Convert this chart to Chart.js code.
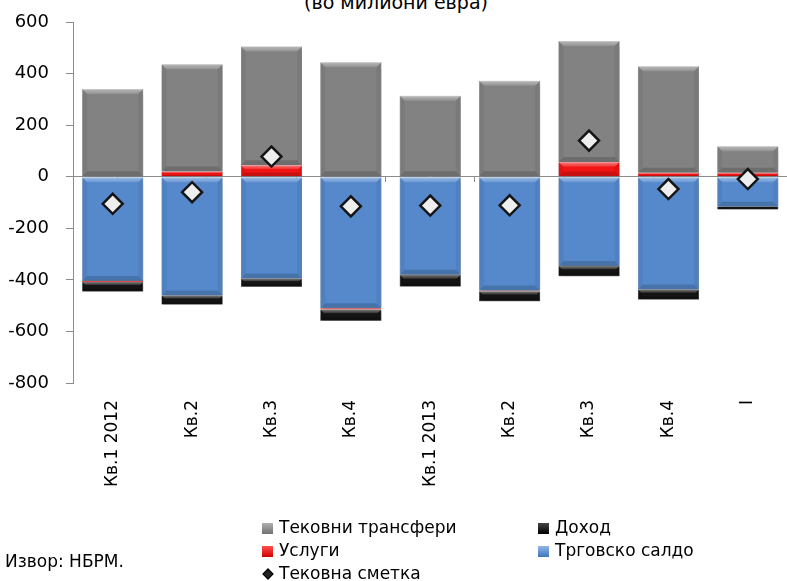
<!DOCTYPE html>
<html>
<head>
<meta charset="utf-8">
<script src="https://cdn.jsdelivr.net/npm/chart.js@4.4.0/dist/chart.umd.min.js"></script>
<style>
    html, body { margin: 0; padding: 0; background: #fff; overflow: hidden; }
    body { width: 787px; height: 581px; position: relative; font-family: "DejaVu Sans", sans-serif; color: #000; }
    #wrap { position: absolute; left: 0; top: 0; width: 800px; height: 581px; }
    .title { position: absolute; left: 0; width: 792px; top: -7px; text-align: center; font-size: 19px; line-height: 1; }
    .legend { position: absolute; font-size: 17px; line-height: 23px; white-space: nowrap; }
    .legend div { position: relative; padding-left: 18px; }
    .sw { position: absolute; left: 1px; top: 7px; width: 11px; height: 11px; }
    .dia { position: absolute; left: 3px; top: 8px; width: 6px; height: 6px; background: #222; transform: rotate(45deg); border: 1px solid #000; }
    .source { position: absolute; left: 5px; top: 550px; font-size: 17px; line-height: 23px; }
</style>
</head>
<body>
<div class="title">(во милиони евра)</div>
<div id="wrap"><canvas id="bopChart"></canvas></div>

<div class="legend" style="left:261px; top:516px;">
    <div><span class="sw" style="background:linear-gradient(#b0b0b0,#707070);"></span>Тековни трансфери</div>
    <div><span class="sw" style="background:linear-gradient(#ff5050,#d00000);"></span>Услуги</div>
    <div><span class="dia"></span>Тековна сметка</div>
</div>
<div class="legend" style="left:537px; top:516px;">
    <div><span class="sw" style="background:linear-gradient(#444,#000);"></span>Доход</div>
    <div><span class="sw" style="background:linear-gradient(#8fb6e8,#3f74bd);"></span>Трговско салдо</div>
</div>
<div class="source">Извор: НБРМ.</div>

<script>
// quarters on the x axis
var labels = ["Кв.1 2012", "Кв.2", "Кв.3", "Кв.4", "Кв.1 2013", "Кв.2", "Кв.3", "Кв.4", "I"];

// components of the current account, millions of euros
var trade     = [-404, -461, -395, -510, -380, -441, -346, -437, -116];
var services  = [-4, 20, 44, -5, 0, -3, 57, 15, 15];
var income    = [-37, -35, -32, -44, -46, -39, -40, -39, -11];
var transfers = [340, 416, 461, 444, 314, 372, 469, 413, 103];
var current   = [-105, -60, 78, -115, -112, -111, 140, -48, -9];

var yTicks = { min: -800, max: 600, step: 200 };

// soft drop shadow under the bars, then a light top edge / darker bottom edge
var bevel = {
    id: 'bevel',
    beforeDatasetDraw: function (chart, args) {
        if (args.meta.type !== 'bar') return;
        var ctx = chart.ctx;
        ctx.save();
        ctx.shadowColor = 'rgba(0,0,0,0.35)';
        ctx.shadowBlur = 5;
        ctx.shadowOffsetX = 1;
        ctx.shadowOffsetY = 3;
    },
    afterDatasetDraw: function (chart, args) {
        var meta = args.meta;
        if (meta.type !== 'bar') return;
        var ctx = chart.ctx;
        ctx.restore();
        ctx.save();
        meta.data.forEach(function (bar) {
            var p = bar.getProps(['x', 'y', 'base', 'width'], true);
            var l = p.x - p.width / 2, r = p.x + p.width / 2;
            var t = Math.min(p.y, p.base), b = Math.max(p.y, p.base);
            var h = b - t;
            if (h < 3) return;
            var d = Math.min(5, h / 3);
            var g = ctx.createLinearGradient(0, t, 0, t + d);
            g.addColorStop(0, 'rgba(255,255,255,0.45)');
            g.addColorStop(1, 'rgba(255,255,255,0.12)');
            ctx.fillStyle = g;
            ctx.beginPath();
            ctx.moveTo(l, t); ctx.lineTo(r, t); ctx.lineTo(r - d, t + d); ctx.lineTo(l + d, t + d);
            ctx.closePath(); ctx.fill();
            ctx.fillStyle = 'rgba(0,0,0,0.16)';
            ctx.beginPath();
            ctx.moveTo(l, b); ctx.lineTo(r, b); ctx.lineTo(r - d, b - d); ctx.lineTo(l + d, b - d);
            ctx.closePath(); ctx.fill();
            ctx.fillStyle = 'rgba(0,0,0,0.06)';
            ctx.beginPath();
            ctx.moveTo(l, t); ctx.lineTo(l + d, t + d); ctx.lineTo(l + d, b - d); ctx.lineTo(l, b);
            ctx.closePath(); ctx.fill();
            ctx.beginPath();
            ctx.moveTo(r, t); ctx.lineTo(r - d, t + d); ctx.lineTo(r - d, b - d); ctx.lineTo(r, b);
            ctx.closePath(); ctx.fill();
        });
        ctx.restore();
    }
};

function barSet(label, data, color, edge) {
    return {
        type: 'bar',
        label: label,
        data: data,
        backgroundColor: color,
        borderColor: edge,
        borderWidth: 0.5,
        stack: 'bop',
        order: 1,
        barPercentage: 0.77,
        categoryPercentage: 1.0
    };
}

var ctx = document.getElementById('bopChart').getContext('2d');
var chart = new Chart(ctx, {
    data: {
        labels: labels,
        datasets: [
            barSet('Трговско салдо', trade, '#5589cc', '#3d6ea8'),
            barSet('Услуги', services, '#f01414', '#b00000'),
            barSet('Доход', income, '#141414', '#000000'),
            barSet('Тековни трансфери', transfers, '#828282', '#6a6a6a'),
            {
                type: 'line',
                label: 'Тековна сметка',
                data: current,
                stack: 'ca',
                order: 0,
                showLine: false,
                pointStyle: 'rectRot',
                pointRadius: 10,
                pointHoverRadius: 10,
                pointBackgroundColor: '#eeeeee',
                pointBorderColor: '#151515',
                pointBorderWidth: 2.5
            }
        ]
    },
    options: {
        responsive: true,
        maintainAspectRatio: false,
        animation: false,
        layout: { padding: { top: 22, right: 5, left: 0, bottom: 0 } },
        plugins: {
            legend: { display: false },
            tooltip: { enabled: false }
        },
        scales: {
            x: {
                stacked: true,
                grid: { display: false },
                border: { display: false },
                ticks: {
                    color: '#000',
                    font: { family: 'DejaVu Sans', size: 17 },
                    minRotation: 90,
                    maxRotation: 90,
                    padding: 9,
                    autoSkip: false
                },
                afterFit: function (scale) { scale.height = 198; }
            },
            x2: {
                type: 'category',
                labels: labels,
                position: { y: 0 },
                grid: { offset: true, drawOnChartArea: false, tickLength: 5, color: '#8c8c8c' },
                border: { color: '#8c8c8c', width: 1 },
                ticks: { display: false, autoSkip: false }
            },
            y: {
                stacked: true,
                min: yTicks.min,
                max: yTicks.max,
                grid: { drawOnChartArea: false, tickLength: 7, color: '#8c8c8c' },
                border: { color: '#8c8c8c', width: 1 },
                ticks: {
                    stepSize: yTicks.step,
                    color: '#000',
                    padding: 17,
                    font: { family: 'DejaVu Sans', size: 18 }
                },
                afterFit: function (scale) {
                    scale.width = 73;
                    // keep the label padding from pushing the plot top down
                    scale.paddingTop = 11;
                    scale.paddingBottom = 11;
                }
            }
        }
    },
    plugins: [bevel]
});
</script>
</body>
</html>
